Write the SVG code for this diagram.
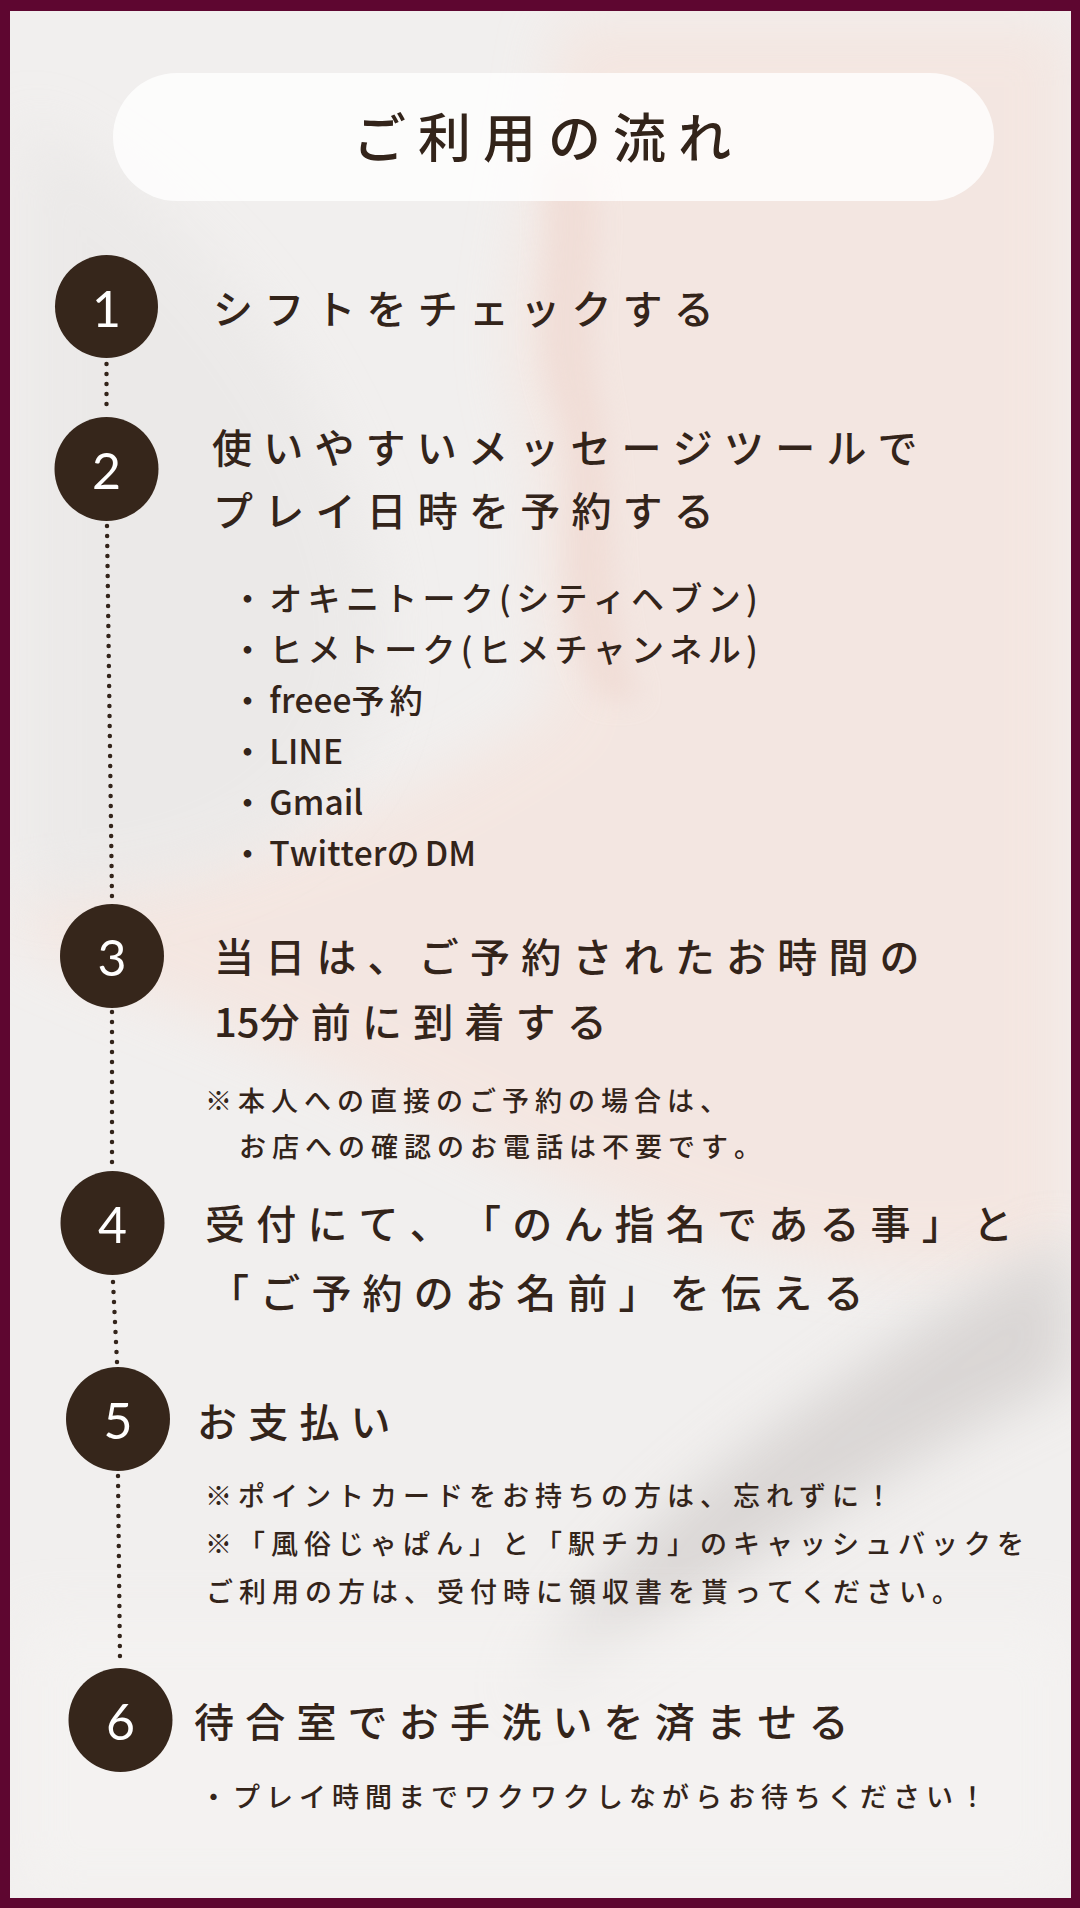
<svg xmlns="http://www.w3.org/2000/svg" width="1080" height="1908" viewBox="0 0 1080 1908">
<defs>
<filter id="blur" x="-30%" y="-30%" width="160%" height="160%"><feGaussianBlur stdDeviation="28"/></filter>
<filter id="blur2" x="-30%" y="-30%" width="160%" height="160%"><feGaussianBlur stdDeviation="12"/></filter>
<clipPath id="inner"><rect x="10" y="11" width="1061" height="1887"/></clipPath>
<style>
.jp{font-family:"Noto Sans CJK JP","Noto Sans CJK SC",sans-serif;fill:#33241a;font-weight:500;text-spacing-trim:space-all;font-kerning:none}
.h{font-size:40px;letter-spacing:11.2px}
.li{font-size:33px;letter-spacing:5.3px}
.nt{font-size:27px;letter-spacing:6px}
.lat{letter-spacing:0px;font-size:33.5px}
.lat2{letter-spacing:0px}
.num{font-family:Lato,"Noto Sans",sans-serif;font-size:50px;fill:#ffffff;text-anchor:middle}
.circ{fill:#36261b}
.dot{stroke:#33241a;stroke-width:4.5;stroke-linecap:round;stroke-dasharray:0 10;fill:none}
</style>
</defs>
<rect x="0" y="0" width="1080" height="1908" fill="#5e0630"/>
<rect x="10" y="11" width="1061" height="1887" fill="#f1efee"/>
<g id="background" clip-path="url(#inner)">
<path d="M560,20 L1071,20 L1071,1250 C900,1300 700,1250 500,1150 C300,1050 150,1000 20,940 L20,900 C200,880 400,820 560,700 C520,600 560,500 520,400 C500,300 540,200 560,20 Z" fill="#f5e3dc" opacity="0.7" filter="url(#blur)"/>
<path d="M540,170 C560,250 520,330 560,420 C580,500 540,600 600,700 L640,700 C600,600 620,500 600,400 C580,300 610,230 590,170 Z" fill="#efd9d2" opacity="0.65" filter="url(#blur2)"/>
<path d="M20,120 C200,200 350,400 380,600 C400,800 250,900 20,900 Z" fill="#e8e6e5" opacity="0.6" filter="url(#blur)"/>
<path d="M1071,1240 C980,1280 900,1340 800,1410 C700,1480 600,1560 520,1700 C620,1650 730,1570 830,1510 C930,1450 1000,1410 1071,1380 Z" fill="#d6d2d0" opacity="0.85" filter="url(#blur)"/>
<path d="M20,1620 L1071,1620 L1071,1898 L20,1898 Z" fill="#f6f4f3" opacity="0.6" filter="url(#blur)"/>
</g>
<g id="title">
<rect x="113" y="73" width="881" height="128" rx="64" fill="#ffffff" opacity="0.78"/>
<text class="jp" x="353" y="158" font-size="53" letter-spacing="12" font-weight="700">ご利用の流れ</text>
</g>
<g id="connectors">
<line class="dot" x1="106.5" y1="364" x2="106.5" y2="414"/>
<line class="dot" x1="107" y1="526" x2="112" y2="900"/>
<line class="dot" x1="112" y1="1012" x2="112" y2="1166"/>
<line class="dot" x1="113" y1="1282" x2="117" y2="1362"/>
<line class="dot" x1="118" y1="1476" x2="120" y2="1662"/>
</g>
<g id="step1">
<circle class="circ" cx="106.5" cy="306.5" r="51.5"/>
<text class="num" x="106.5" y="327">1</text>
<text class="jp h" x="213" y="324">シフトをチェックする</text>
</g>
<g id="step2">
<circle class="circ" cx="106.5" cy="469" r="52"/>
<text class="num" x="106.5" y="489">2</text>
<text class="jp h" x="212" y="463">使いやすいメッセージツールで</text>
<text class="jp h" x="213" y="526">プレイ日時を予約する</text>
<text class="jp li" x="231" y="611">・オキニトーク(シティヘブン)</text>
<text class="jp li" x="231" y="662">・ヒメトーク(ヒメチャンネル)</text>
<text class="jp li" x="231" y="713">・<tspan class="lat">freee</tspan>予約</text>
<text class="jp li" x="231" y="764">・<tspan class="lat">LINE</tspan></text>
<text class="jp li" x="231" y="815">・<tspan class="lat">Gmail</tspan></text>
<text class="jp li" x="231" y="866">・<tspan class="lat">Twitter</tspan>の<tspan class="lat">DM</tspan></text>
</g>
<g id="step3">
<circle class="circ" cx="112" cy="956" r="52"/>
<text class="num" x="112" y="976">3</text>
<text class="jp h" x="214" y="972">当日は、ご予約されたお時間の</text>
<text class="jp h" x="214" y="1037"><tspan class="lat2">15</tspan>分前に到着する</text>
<text class="jp nt" x="205" y="1111">※本人への直接のご予約の場合は、</text>
<text class="jp nt" x="239" y="1157">お店への確認のお電話は不要です。</text>
</g>
<g id="step4">
<circle class="circ" cx="112.5" cy="1223" r="52"/>
<text class="num" x="112.5" y="1243">4</text>
<text class="jp h" x="205" y="1239">受付にて、「のん指名である事」と</text>
<text class="jp h" x="209" y="1308">「ご予約のお名前」を伝える</text>
</g>
<g id="step5">
<circle class="circ" cx="118" cy="1419" r="52"/>
<text class="num" x="118" y="1439">5</text>
<text class="jp h" x="197" y="1437">お支払い</text>
<text class="jp nt" x="205" y="1506">※ポイントカードをお持ちの方は、忘れずに！</text>
<text class="jp nt" x="205" y="1554">※「風俗じゃぱん」と「駅チカ」のキャッシュバックを</text>
<text class="jp nt" x="206" y="1602">ご利用の方は、受付時に領収書を貰ってください。</text>
</g>
<g id="step6">
<circle class="circ" cx="120.5" cy="1720" r="52"/>
<text class="num" x="120.5" y="1740">6</text>
<text class="jp h" x="194" y="1737">待合室でお手洗いを済ませる</text>
<text class="jp nt" x="200" y="1807">・プレイ時間までワクワクしながらお待ちください！</text>
</g>
</svg>
